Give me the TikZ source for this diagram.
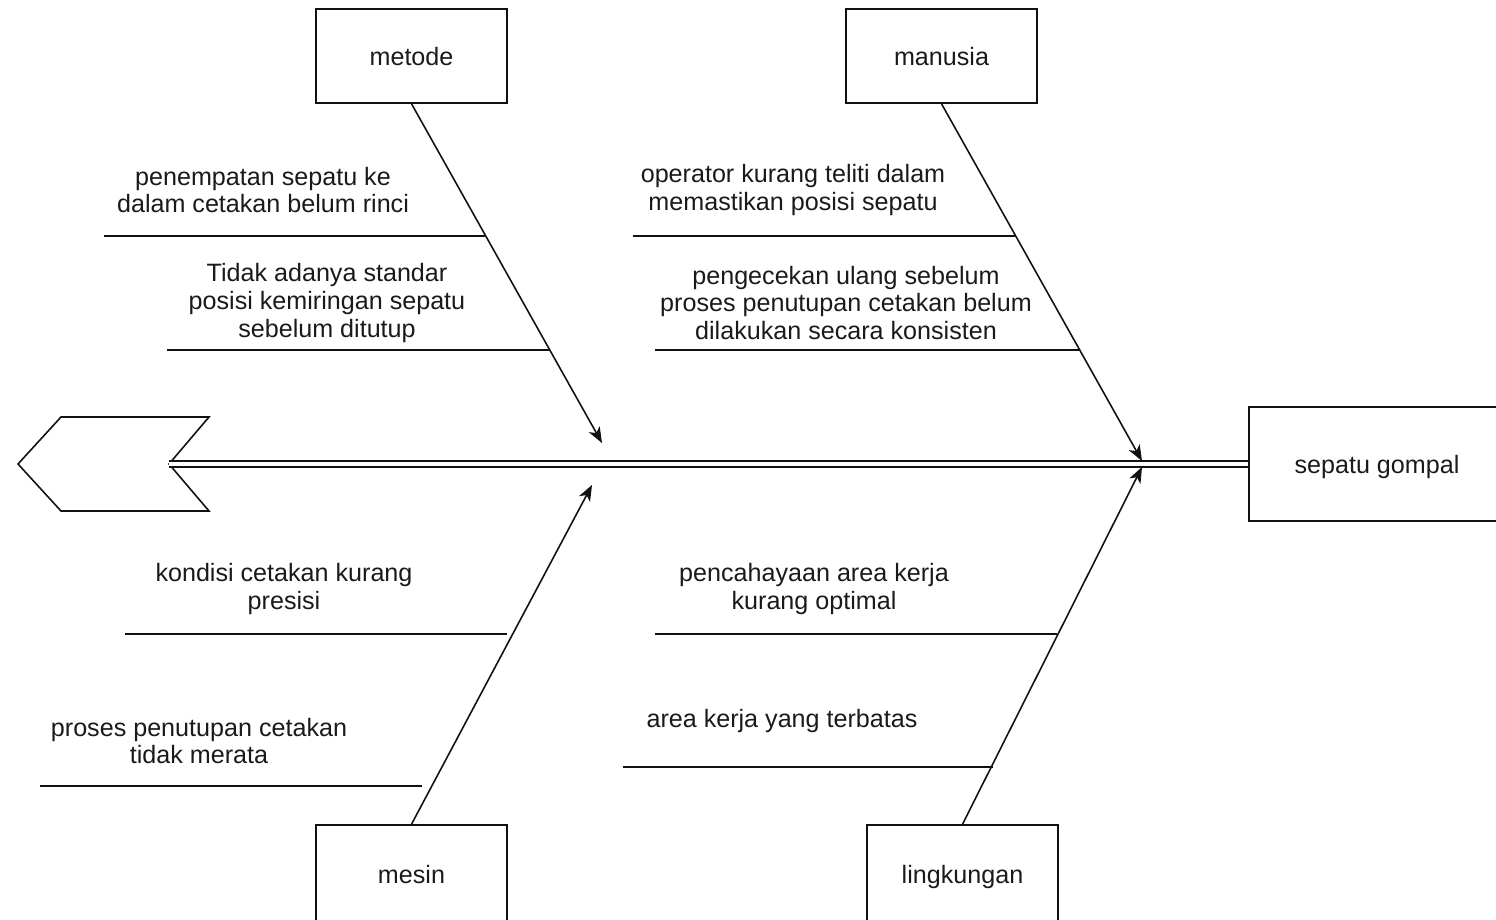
\documentclass[tikz,border=0pt]{standalone}
\usepackage{fontspec}
\setmainfont{Liberation Sans}
\usepackage{xcolor}
\usetikzlibrary{arrows.meta,positioning,calc}
\definecolor{finkline}{HTML}{111111}
\definecolor{fintext}{HTML}{1A1A1A}

\begin{document}
\begin{tikzpicture}[
  x=0.02cm, y=-0.02cm,
  every node/.style={font=\fontsize{14.3}{15.7}\selectfont, text=fintext},
  cause/.style={draw=finkline,line width=0.9pt,minimum width=3.82cm,minimum height=1.88cm,inner sep=0pt,text height=13.5pt,text depth=3pt},
  lowcause/.style={cause,minimum height=2cm,text height=12.5pt},
  effectbox/.style={cause,minimum width=5.12cm,minimum height=2.28cm},
  note/.style={align=center,inner sep=0pt},
  bone/.style={-{Stealth[length=9pt,width=7pt,inset=2.5pt]},finkline,line width=0.9pt},
  rib/.style={finkline,line width=0.9pt},
  spine/.style={draw=finkline,double=white,double distance=2.6pt,line width=0.8pt}
]
\useasboundingbox (0,0) rectangle (1496,919);

% head of the fish
\draw[rib] (18,464) -- (61,417) -- (209,417) -- (169,464) -- (209,511) -- (61,511) -- cycle;
\coordinate (head) at (169,464);

% effect and causes
\node[effectbox] (effect) at (1377,464) {sepatu gompal};
\node[cause] (metode) at (411.5,56) {metode};
\node[cause] (manusia) at (941.5,56) {manusia};
\node[lowcause] (mesin) at (411.5,875) {mesin};
\node[lowcause] (lingkungan) at (962.5,875) {lingkungan};

\draw[spine] (head) -- (effect.west);

\coordinate (tmetode) at (602,443);
\coordinate (tmanusia) at (1142,461);
\coordinate (tmesin) at (592,485);
\coordinate (tlingkungan) at (1142,467);

\draw[bone] (metode.south) -- (tmetode);
\draw[bone] (manusia.south) -- (tmanusia);
\draw[bone] (mesin.north) -- (tmesin);
\draw[bone] (lingkungan.north) -- (tlingkungan);

% metode
\node[note] (m1) at (263,190) {penempatan sepatu ke\\dalam cetakan belum rinci};
\draw[rib] (104,236) -- (485,236);
\node[note] (m2) at (327,303) {Tidak adanya standar\\posisi kemiringan sepatu\\sebelum ditutup};
\draw[rib] (167,350) -- (549,350);

% manusia
\node[note] (p1) at (793,190) {operator kurang teliti dalam\\memastikan posisi sepatu};
\draw[rib] (633,236) -- (1015,236);
\node[note] (p2) at (846,303) {pengecekan ulang sebelum\\proses penutupan cetakan belum\\dilakukan secara konsisten};
\draw[rib] (655,350) -- (1079,350);

% mesin
\node[note] (s1) at (284,589) {kondisi cetakan kurang\\presisi};
\draw[rib] (125,634) -- (507,634);
\node[note] (s2) at (199,741) {proses penutupan cetakan\\tidak merata};
\draw[rib] (40,786) -- (422,786);

% lingkungan
\node[note] (l1) at (814,589) {pencahayaan area kerja\\kurang optimal};
\draw[rib] (655,634) -- (1057,634);
\node[note] (l2) at (782,721) {area kerja yang terbatas};
\draw[rib] (623,767) -- (993,767);
\end{tikzpicture}
\end{document}
